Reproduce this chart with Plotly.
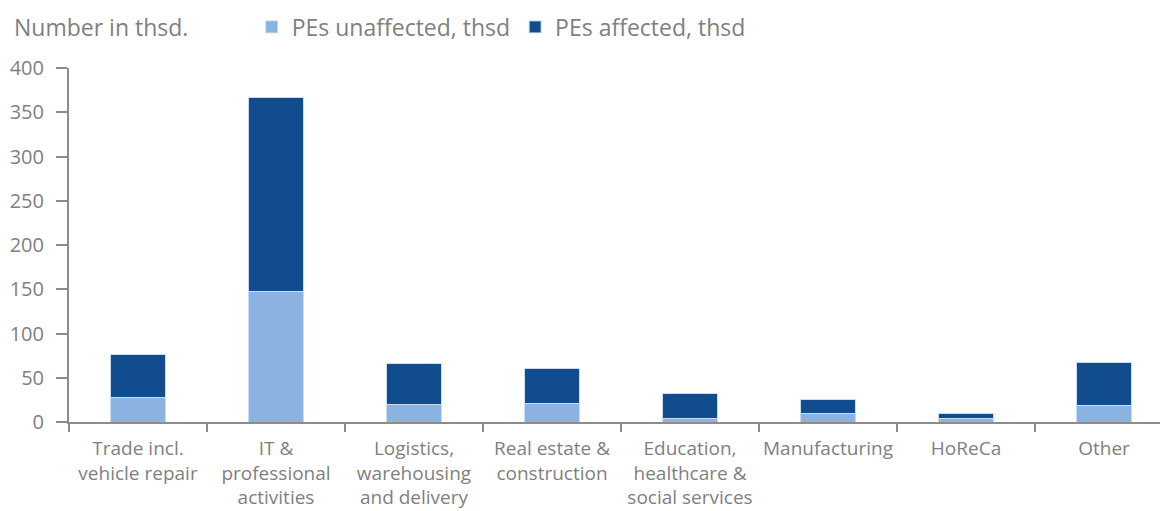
import plotly.graph_objects as go

categories = [
    'Trade incl.<br>vehicle repair',
    'IT &<br>professional<br>activities',
    'Logistics,<br>warehousing<br>and delivery',
    'Real estate &<br>construction',
    'Education,<br>healthcare &<br>social services',
    'Manufacturing',
    'HoReCa',
    'Other',
]
unaffected = [28, 148, 20, 21, 4, 10, 4, 19]
affected = [48, 219, 46, 40, 28, 15, 6, 48]
y_ticks = [0, 50, 100, 150, 200, 250, 300, 350, 400]

grey = '#7f7f7f'
axis_grey = '#8c8c8c'
font_family = 'Open Sans, sans-serif'

fig = go.Figure()
fig.add_trace(go.Bar(
    x = categories,
    y = unaffected,
    name = 'PEs unaffected, thsd',
    marker = dict(color = '#8AB3E1', line = dict(color = '#c9dcf2', width = 1)),
    width = 0.4
))
fig.add_trace(go.Bar(
    x = categories,
    y = affected,
    name = 'PEs affected, thsd',
    marker = dict(color = '#114C8F', line = dict(color = '#c9dcf2', width = 1)),
    width = 0.4
))

# page has an 8px body margin, so margins are shifted to land on the reference
fig.update_layout(
    barmode = 'stack',
    width = 1168,
    height = 511,
    margin = dict(l = 61, r = 3, t = 60, b = 97, autoexpand = False),
    plot_bgcolor = 'white',
    paper_bgcolor = 'white',
    font = dict(family = font_family, color = grey, size = 19),
    legend = dict(
        orientation = 'h',
        x = 0.1655,
        y = 1.116,
        xanchor = 'left',
        yanchor = 'middle',
        font = dict(size = 23, color = grey),
        itemwidth = 30,
        traceorder = 'normal'
    ),
    yaxis = dict(
        range = [0, 400],
        tickvals = y_ticks,
        showgrid = False,
        showline = True,
        linecolor = axis_grey,
        linewidth = 2,
        ticks = 'outside',
        ticklen = 11,
        tickcolor = axis_grey,
        tickwidth = 2,
        zeroline = False,
        automargin = False,
        ticklabelstandoff = 8,
        tickfont = dict(size = 20, color = grey)
    ),
    xaxis = dict(
        showgrid = False,
        showline = True,
        linecolor = axis_grey,
        linewidth = 2,
        ticks = 'outside',
        tickson = 'boundaries',
        ticklen = 8,
        tickcolor = axis_grey,
        tickwidth = 2,
        tickangle = 0,
        automargin = False,
        ticklabelstandoff = 8,
        tickfont = dict(size = 19, color = grey)
    ),
    annotations = [dict(
        text = 'Number in thsd.',
        xref = 'paper', yref = 'paper',
        x = -0.0515, y = 1.116,
        xanchor = 'left', yanchor = 'middle',
        showarrow = False,
        font = dict(size = 23, color = grey)
    )]
)

fig.write_html('out.html')
